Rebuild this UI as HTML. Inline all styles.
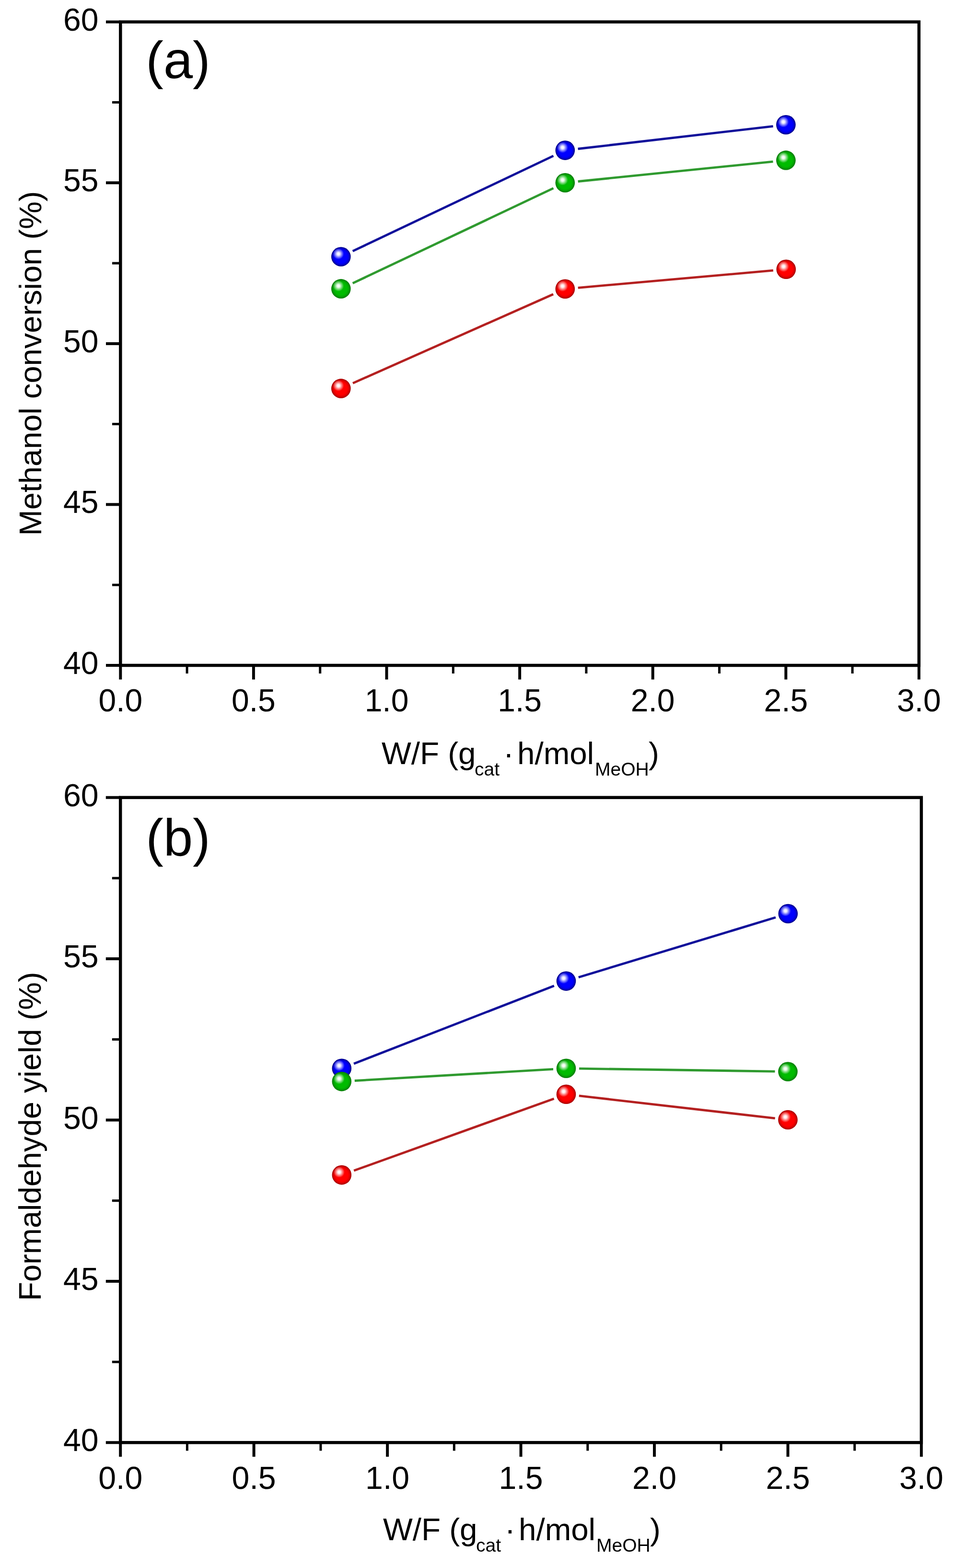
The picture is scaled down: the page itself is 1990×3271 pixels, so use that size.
<!DOCTYPE html>
<html><head><meta charset="utf-8"><title>W/F plot</title>
<style>html,body{margin:0;padding:0;background:#fff;overflow:hidden;}svg{display:block;}text{font-family:'Liberation Sans', Arial, sans-serif;fill:#000;}</style></head><body>
<svg width="1990" height="3271" viewBox="0 0 1990 3271">
<defs>
<radialGradient id="gblue" cx="0.5" cy="0.5" r="0.5">
<stop offset="0" stop-color="#0000ff"/><stop offset="0.66" stop-color="#0000ff"/><stop offset="0.84" stop-color="#0000d0"/><stop offset="1" stop-color="#00007e"/>
</radialGradient>
<radialGradient id="ggreen" cx="0.5" cy="0.5" r="0.5">
<stop offset="0" stop-color="#00bb00"/><stop offset="0.66" stop-color="#00bb00"/><stop offset="0.84" stop-color="#059c05"/><stop offset="1" stop-color="#0a7a0a"/>
</radialGradient>
<radialGradient id="gred" cx="0.5" cy="0.5" r="0.5">
<stop offset="0" stop-color="#ff0000"/><stop offset="0.66" stop-color="#ff0000"/><stop offset="0.84" stop-color="#d80000"/><stop offset="1" stop-color="#a00000"/>
</radialGradient>
<radialGradient id="hl" cx="0.5" cy="0.5" r="0.5"><stop offset="0" stop-color="#fff" stop-opacity="1"/><stop offset="0.25" stop-color="#fff" stop-opacity="0.93"/><stop offset="0.55" stop-color="#fff" stop-opacity="0.55"/><stop offset="1" stop-color="#fff" stop-opacity="0"/></radialGradient>
</defs>
<rect x="0" y="0" width="1990" height="3271" fill="#fff"/>
<rect x="251.3" y="45.7" width="1665.6" height="1342.3" fill="none" stroke="#000" stroke-width="6.5"/>
<line x1="221.0" y1="1388.0" x2="251.3" y2="1388.0" stroke="#000" stroke-width="6"/>
<text x="205.5" y="1406.0" font-size="66.0" text-anchor="end">40</text>
<line x1="234.0" y1="1220.2" x2="251.3" y2="1220.2" stroke="#000" stroke-width="5"/>
<line x1="221.0" y1="1052.4" x2="251.3" y2="1052.4" stroke="#000" stroke-width="6"/>
<text x="205.5" y="1070.4" font-size="66.0" text-anchor="end">45</text>
<line x1="234.0" y1="884.6" x2="251.3" y2="884.6" stroke="#000" stroke-width="5"/>
<line x1="221.0" y1="716.9" x2="251.3" y2="716.9" stroke="#000" stroke-width="6"/>
<text x="205.5" y="734.9" font-size="66.0" text-anchor="end">50</text>
<line x1="234.0" y1="549.1" x2="251.3" y2="549.1" stroke="#000" stroke-width="5"/>
<line x1="221.0" y1="381.3" x2="251.3" y2="381.3" stroke="#000" stroke-width="6"/>
<text x="205.5" y="399.3" font-size="66.0" text-anchor="end">55</text>
<line x1="234.0" y1="213.5" x2="251.3" y2="213.5" stroke="#000" stroke-width="5"/>
<line x1="221.0" y1="45.7" x2="251.3" y2="45.7" stroke="#000" stroke-width="6"/>
<text x="205.5" y="63.7" font-size="66.0" text-anchor="end">60</text>
<line x1="251.3" y1="1388.0" x2="251.3" y2="1417.5" stroke="#000" stroke-width="6"/>
<text x="251.3" y="1484.0" font-size="66.0" text-anchor="middle">0.0</text>
<line x1="390.1" y1="1388.0" x2="390.1" y2="1405.0" stroke="#000" stroke-width="5"/>
<line x1="528.9" y1="1388.0" x2="528.9" y2="1417.5" stroke="#000" stroke-width="6"/>
<text x="528.9" y="1484.0" font-size="66.0" text-anchor="middle">0.5</text>
<line x1="667.7" y1="1388.0" x2="667.7" y2="1405.0" stroke="#000" stroke-width="5"/>
<line x1="806.5" y1="1388.0" x2="806.5" y2="1417.5" stroke="#000" stroke-width="6"/>
<text x="806.5" y="1484.0" font-size="66.0" text-anchor="middle">1.0</text>
<line x1="945.3" y1="1388.0" x2="945.3" y2="1405.0" stroke="#000" stroke-width="5"/>
<line x1="1084.1" y1="1388.0" x2="1084.1" y2="1417.5" stroke="#000" stroke-width="6"/>
<text x="1084.1" y="1484.0" font-size="66.0" text-anchor="middle">1.5</text>
<line x1="1222.9" y1="1388.0" x2="1222.9" y2="1405.0" stroke="#000" stroke-width="5"/>
<line x1="1361.7" y1="1388.0" x2="1361.7" y2="1417.5" stroke="#000" stroke-width="6"/>
<text x="1361.7" y="1484.0" font-size="66.0" text-anchor="middle">2.0</text>
<line x1="1500.5" y1="1388.0" x2="1500.5" y2="1405.0" stroke="#000" stroke-width="5"/>
<line x1="1639.3" y1="1388.0" x2="1639.3" y2="1417.5" stroke="#000" stroke-width="6"/>
<text x="1639.3" y="1484.0" font-size="66.0" text-anchor="middle">2.5</text>
<line x1="1778.1" y1="1388.0" x2="1778.1" y2="1405.0" stroke="#000" stroke-width="5"/>
<line x1="1916.9" y1="1388.0" x2="1916.9" y2="1417.5" stroke="#000" stroke-width="6"/>
<text x="1916.9" y="1484.0" font-size="66.0" text-anchor="middle">3.0</text>
<text y="1594.0" font-size="65.5"><tspan x="796.0">W/F (g</tspan><tspan x="990.0" y="1618.0" font-size="39">cat</tspan><tspan x="1050.0" y="1594.0">·</tspan><tspan x="1079.0">h/mol</tspan><tspan x="1241.0" y="1618.0" font-size="39">MeOH</tspan><tspan x="1353.0" y="1594.0">)</tspan></text>
<text transform="translate(85.7 1117.5) rotate(-90)" font-size="65">Methanol conversion (%)</text>
<text x="304.3" y="162.5" font-size="110">(a)</text>
<line x1="736.0" y1="799.4" x2="1154.1" y2="613.7" stroke="#b42020" stroke-width="4.8"/>
<line x1="1205.7" y1="600.3" x2="1612.9" y2="564.2" stroke="#b42020" stroke-width="4.8"/>
<line x1="735.7" y1="523.9" x2="1154.4" y2="325.2" stroke="#10109a" stroke-width="4.8"/>
<line x1="1205.6" y1="310.5" x2="1612.6" y2="263.3" stroke="#10109a" stroke-width="4.8"/>
<line x1="735.7" y1="590.9" x2="1154.4" y2="392.7" stroke="#2f9a2f" stroke-width="4.8"/>
<line x1="1205.7" y1="378.5" x2="1612.5" y2="337.1" stroke="#2f9a2f" stroke-width="4.8"/>
<circle cx="711.3" cy="810.4" r="20.3" fill="url(#gred)"/>
<circle cx="706.0" cy="804.5" r="11.5" fill="url(#hl)"/>
<circle cx="1178.8" cy="602.7" r="20.3" fill="url(#gred)"/>
<circle cx="1173.5" cy="596.8" r="11.5" fill="url(#hl)"/>
<circle cx="1639.8" cy="561.8" r="20.3" fill="url(#gred)"/>
<circle cx="1634.5" cy="555.9" r="11.5" fill="url(#hl)"/>
<circle cx="711.3" cy="535.5" r="20.3" fill="url(#gblue)"/>
<circle cx="706.0" cy="529.6" r="11.5" fill="url(#hl)"/>
<circle cx="1178.8" cy="313.6" r="20.3" fill="url(#gblue)"/>
<circle cx="1173.5" cy="307.7" r="11.5" fill="url(#hl)"/>
<circle cx="1639.4" cy="260.2" r="20.3" fill="url(#gblue)"/>
<circle cx="1634.1" cy="254.3" r="11.5" fill="url(#hl)"/>
<circle cx="711.3" cy="602.4" r="20.3" fill="url(#ggreen)"/>
<circle cx="706.0" cy="596.5" r="11.5" fill="url(#hl)"/>
<circle cx="1178.8" cy="381.2" r="20.3" fill="url(#ggreen)"/>
<circle cx="1173.5" cy="375.3" r="11.5" fill="url(#hl)"/>
<circle cx="1639.4" cy="334.4" r="20.3" fill="url(#ggreen)"/>
<circle cx="1634.1" cy="328.5" r="11.5" fill="url(#hl)"/>
<rect x="251.2" y="1663.7" width="1670.7" height="1345.6" fill="none" stroke="#000" stroke-width="6.5"/>
<line x1="220.8" y1="3009.3" x2="251.2" y2="3009.3" stroke="#000" stroke-width="6"/>
<text x="205.5" y="3027.4" font-size="66.2" text-anchor="end">40</text>
<line x1="233.8" y1="2841.1" x2="251.2" y2="2841.1" stroke="#000" stroke-width="5"/>
<line x1="220.8" y1="2672.9" x2="251.2" y2="2672.9" stroke="#000" stroke-width="6"/>
<text x="205.5" y="2691.0" font-size="66.2" text-anchor="end">45</text>
<line x1="233.8" y1="2504.7" x2="251.2" y2="2504.7" stroke="#000" stroke-width="5"/>
<line x1="220.8" y1="2336.5" x2="251.2" y2="2336.5" stroke="#000" stroke-width="6"/>
<text x="205.5" y="2354.6" font-size="66.2" text-anchor="end">50</text>
<line x1="233.8" y1="2168.3" x2="251.2" y2="2168.3" stroke="#000" stroke-width="5"/>
<line x1="220.8" y1="2000.1" x2="251.2" y2="2000.1" stroke="#000" stroke-width="6"/>
<text x="205.5" y="2018.2" font-size="66.2" text-anchor="end">55</text>
<line x1="233.8" y1="1831.9" x2="251.2" y2="1831.9" stroke="#000" stroke-width="5"/>
<line x1="220.8" y1="1663.7" x2="251.2" y2="1663.7" stroke="#000" stroke-width="6"/>
<text x="205.5" y="1681.8" font-size="66.2" text-anchor="end">60</text>
<line x1="251.2" y1="3009.3" x2="251.2" y2="3038.9" stroke="#000" stroke-width="6"/>
<text x="251.2" y="3105.6" font-size="66.2" text-anchor="middle">0.0</text>
<line x1="390.4" y1="3009.3" x2="390.4" y2="3026.4" stroke="#000" stroke-width="5"/>
<line x1="529.6" y1="3009.3" x2="529.6" y2="3038.9" stroke="#000" stroke-width="6"/>
<text x="529.6" y="3105.6" font-size="66.2" text-anchor="middle">0.5</text>
<line x1="668.9" y1="3009.3" x2="668.9" y2="3026.4" stroke="#000" stroke-width="5"/>
<line x1="808.1" y1="3009.3" x2="808.1" y2="3038.9" stroke="#000" stroke-width="6"/>
<text x="808.1" y="3105.6" font-size="66.2" text-anchor="middle">1.0</text>
<line x1="947.3" y1="3009.3" x2="947.3" y2="3026.4" stroke="#000" stroke-width="5"/>
<line x1="1086.5" y1="3009.3" x2="1086.5" y2="3038.9" stroke="#000" stroke-width="6"/>
<text x="1086.5" y="3105.6" font-size="66.2" text-anchor="middle">1.5</text>
<line x1="1225.8" y1="3009.3" x2="1225.8" y2="3026.4" stroke="#000" stroke-width="5"/>
<line x1="1365.0" y1="3009.3" x2="1365.0" y2="3038.9" stroke="#000" stroke-width="6"/>
<text x="1365.0" y="3105.6" font-size="66.2" text-anchor="middle">2.0</text>
<line x1="1504.2" y1="3009.3" x2="1504.2" y2="3026.4" stroke="#000" stroke-width="5"/>
<line x1="1643.5" y1="3009.3" x2="1643.5" y2="3038.9" stroke="#000" stroke-width="6"/>
<text x="1643.5" y="3105.6" font-size="66.2" text-anchor="middle">2.5</text>
<line x1="1782.7" y1="3009.3" x2="1782.7" y2="3026.4" stroke="#000" stroke-width="5"/>
<line x1="1921.9" y1="3009.3" x2="1921.9" y2="3038.9" stroke="#000" stroke-width="6"/>
<text x="1921.9" y="3105.6" font-size="66.2" text-anchor="middle">3.0</text>
<text y="3213.0" font-size="65.5"><tspan x="799.0">W/F (g</tspan><tspan x="993.0" y="3237.0" font-size="39">cat</tspan><tspan x="1053.0" y="3213.0">·</tspan><tspan x="1082.0">h/mol</tspan><tspan x="1244.0" y="3237.0" font-size="39">MeOH</tspan><tspan x="1356.0" y="3213.0">)</tspan></text>
<text transform="translate(84.5 2713.7) rotate(-90)" font-size="65">Formaldehyde yield (%)</text>
<text x="304.3" y="1784.8" font-size="110">(b)</text>
<line x1="738.2" y1="2442.0" x2="1155.6" y2="2291.9" stroke="#b42020" stroke-width="4.8"/>
<line x1="1207.8" y1="2285.9" x2="1616.7" y2="2332.9" stroke="#b42020" stroke-width="4.8"/>
<line x1="738.0" y1="2219.0" x2="1155.8" y2="2056.4" stroke="#10109a" stroke-width="4.8"/>
<line x1="1206.8" y1="2038.8" x2="1618.0" y2="1913.8" stroke="#10109a" stroke-width="4.8"/>
<line x1="739.8" y1="2254.5" x2="1154.0" y2="2230.3" stroke="#2f9a2f" stroke-width="4.8"/>
<line x1="1208.0" y1="2229.1" x2="1616.5" y2="2235.1" stroke="#2f9a2f" stroke-width="4.8"/>
<circle cx="712.8" cy="2451.1" r="20.3" fill="url(#gred)"/>
<circle cx="707.5" cy="2445.2" r="11.5" fill="url(#hl)"/>
<circle cx="1181.0" cy="2282.8" r="20.3" fill="url(#gred)"/>
<circle cx="1175.7" cy="2276.9" r="11.5" fill="url(#hl)"/>
<circle cx="1643.5" cy="2336.0" r="20.3" fill="url(#gred)"/>
<circle cx="1638.2" cy="2330.1" r="11.5" fill="url(#hl)"/>
<circle cx="712.8" cy="2228.8" r="20.3" fill="url(#gblue)"/>
<circle cx="707.5" cy="2222.9" r="11.5" fill="url(#hl)"/>
<circle cx="1181.0" cy="2046.6" r="20.3" fill="url(#gblue)"/>
<circle cx="1175.7" cy="2040.7" r="11.5" fill="url(#hl)"/>
<circle cx="1643.8" cy="1906.0" r="20.3" fill="url(#gblue)"/>
<circle cx="1638.5" cy="1900.1" r="11.5" fill="url(#hl)"/>
<circle cx="712.8" cy="2256.1" r="20.3" fill="url(#ggreen)"/>
<circle cx="707.5" cy="2250.2" r="11.5" fill="url(#hl)"/>
<circle cx="1181.0" cy="2228.7" r="20.3" fill="url(#ggreen)"/>
<circle cx="1175.7" cy="2222.8" r="11.5" fill="url(#hl)"/>
<circle cx="1643.5" cy="2235.5" r="20.3" fill="url(#ggreen)"/>
<circle cx="1638.2" cy="2229.6" r="11.5" fill="url(#hl)"/>
</svg></body></html>
